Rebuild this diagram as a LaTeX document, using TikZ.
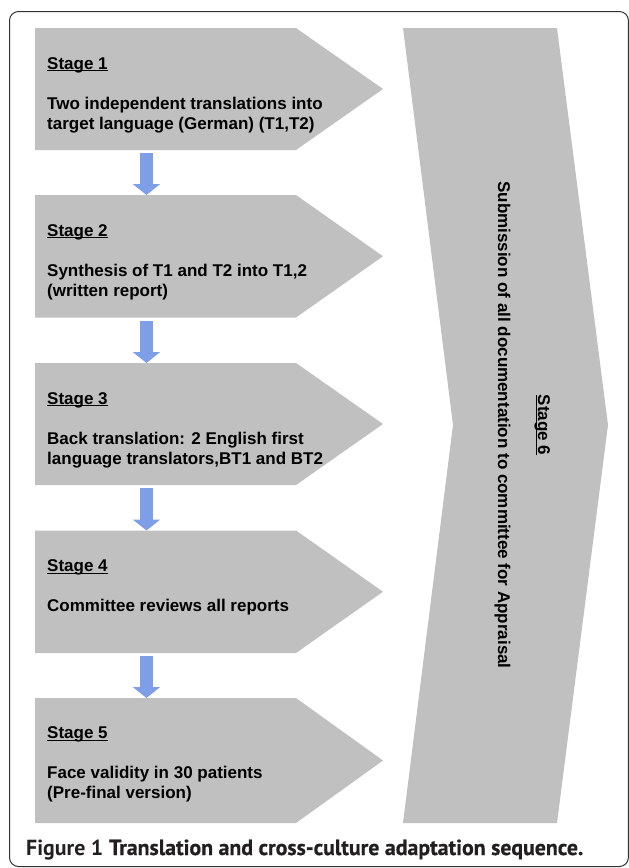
\documentclass[tikz,border=0pt]{standalone}
\usepackage{fontspec}
\usepackage{graphicx}
\setmainfont{Liberation Sans}
\newfontfamily\capfont{PT Sans}
\newfontfamily\capsemi{PT Sans}[FakeBold=0.6]
\usetikzlibrary{arrows.meta}
\definecolor{stagegray}{RGB}{192,192,192}
\definecolor{flowblue}{RGB}{127,158,232}
\definecolor{framegray}{RGB}{50,50,50}
\definecolor{captext}{RGB}{35,31,32}
\newcommand\stul[1]{\setbox0\hbox{#1}\rlap{\rule[-2.2pt]{\wd0}{1.2pt}}\box0}
\begin{document}
\begin{tikzpicture}[x=1pt,y=-1pt,
  stagebox/.style={fill=stagegray, draw=none},
  stagetxt/.style={font=\fontsize{17}{20}\selectfont\bfseries, inner sep=0pt, anchor=base west},
  flowarrow/.style={draw=flowblue, line width=13pt, -{Triangle[width=27pt,length=11pt]}}
  ]
\useasboundingbox (0,0) rectangle (629,868);
\draw[framegray, line width=1pt, rounded corners=9pt] (9.5,11.5) rectangle (628.4,866.5);

% Stage 1
\fill[stagebox] (35,28) -- (296,28) -- (383,89) -- (296,150) -- (35,150) -- cycle;
\node[stagetxt] (st1) at (47,69) {\stul{Stage 1}};
\node[stagetxt] (t1a) at (47,109) {Two independent translations into};
\node[stagetxt] (t1b) at (47,129) {target language (German) (T1,T2)};

% Stage 2
\fill[stagebox] (35,195) -- (296,195) -- (383,256.25) -- (296,317.5) -- (35,317.5) -- cycle;
\node[stagetxt] (st2) at (47,236) {\stul{Stage 2}};
\node[stagetxt] (t2a) at (47,276) {Synthesis of T1 and T2 into T1,2};
\node[stagetxt] (t2b) at (47,296) {(written report)};

% Stage 3
\fill[stagebox] (35,363) -- (296,363) -- (383,424) -- (296,485) -- (35,485) -- cycle;
\node[stagetxt] (st3) at (47,404) {\stul{Stage 3}};
\node[stagetxt] (t3a) at (47,444) {Back translation: 2 English first};
\node[stagetxt] (t3b) at (47,464) {language translators,BT1 and BT2};

% Stage 4
\fill[stagebox] (35,530.5) -- (296,530.5) -- (383,591.75) -- (296,653) -- (35,653) -- cycle;
\node[stagetxt] (st4) at (47,571.5) {\stul{Stage 4}};
\node[stagetxt] (t4a) at (47,611.5) {Committee reviews all reports};

% Stage 5
\fill[stagebox] (35,698) -- (296,698) -- (383,760.5) -- (296,823) -- (35,823) -- cycle;
\node[stagetxt] (st5) at (47,738.5) {\stul{Stage 5}};
\node[stagetxt] (t5a) at (47,778.5) {Face validity in 30 patients};
\node[stagetxt] (t5b) at (47,798.5) {(Pre-final version)};

% Stage 6
\fill[stagebox] (403,28) -- (557,28) -- (608,425) -- (557,823) -- (403,823) -- (453,425) -- cycle;
\node[stagetxt, anchor=base, rotate=-90] (st6) at (538,425) {\stul{Stage 6}};
\node[stagetxt, anchor=base, rotate=-90] (sub6) at (498,425) {Submission of all documentation to committee for Appraisal};

% arrows
\coordinate (a1) at (146.5,153);   \coordinate (b1) at (146.5,195);
\coordinate (a2) at (146.5,320.5); \coordinate (b2) at (146.5,363);
\coordinate (a3) at (146.5,488);   \coordinate (b3) at (146.5,530.5);
\coordinate (a4) at (146.5,656);   \coordinate (b4) at (146.5,698);
\draw[flowarrow] (a1) -- (b1);
\draw[flowarrow] (a2) -- (b2);
\draw[flowarrow] (a3) -- (b3);
\draw[flowarrow] (a4) -- (b4);

% caption
\node[anchor=base west, inner sep=0pt, text=captext] (cap) at (26,855)
  {\resizebox{557pt}{!}{\capfont\textbf{Figure 1} \capsemi\bfseries Translation and cross-culture adaptation sequence.}};
\end{tikzpicture}
\end{document}
